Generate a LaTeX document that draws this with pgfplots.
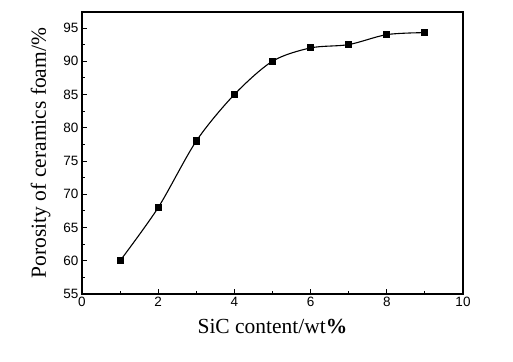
\documentclass[border=0pt]{standalone}
\usepackage{pgfplots}
\pgfplotsset{compat=1.18}
\usepackage{fontspec}
\setmainfont{Liberation Serif}
\newfontfamily\tickfont{Liberation Sans}
\begin{document}
\begin{tikzpicture}
\path[use as bounding box] (-82bp,-68bp) rectangle (431bp,294bp);
\begin{axis}[
  at={(0,0)}, anchor=origin,
  scale only axis,
  width=381bp, height=282bp,
  xmin=0, xmax=10, ymin=55, ymax=97.4,
  xtick={0,2,...,10}, ytick={55,60,...,95},
  minor x tick num=1, minor y tick num=1,
  tick align=inside,
  major tick length=5bp, minor tick length=3bp,
  xtick pos=bottom, ytick pos=left,
  axis line style={line width=1.1pt},
  tick style={line width=0.9pt, black},
  ticklabel style={font=\tickfont\fontsize{13.5bp}{15bp}\selectfont},
  /pgf/number format/assume math mode=true,
  xlabel={SiC content/wt\textbf{\%}},
  ylabel={Porosity of ceramics foam/\%},
  label style={font=\fontsize{21.5bp}{24bp}\selectfont},
  xlabel style={at={(axis description cs:0.5,0)}, anchor=north, yshift=-22bp},
  ylabel style={at={(axis description cs:0,0.5)}, anchor=south, yshift=28bp},
]
\addplot[black, line width=1.1pt, smooth, tension=0.5, mark=square*, mark size=3bp, mark options={solid}]
coordinates {(1,60) (2,68) (3,78) (4,85) (5,90) (6,92) (7,92.5) (8,94) (9,94.3)};
\end{axis}
\end{tikzpicture}
\end{document}
